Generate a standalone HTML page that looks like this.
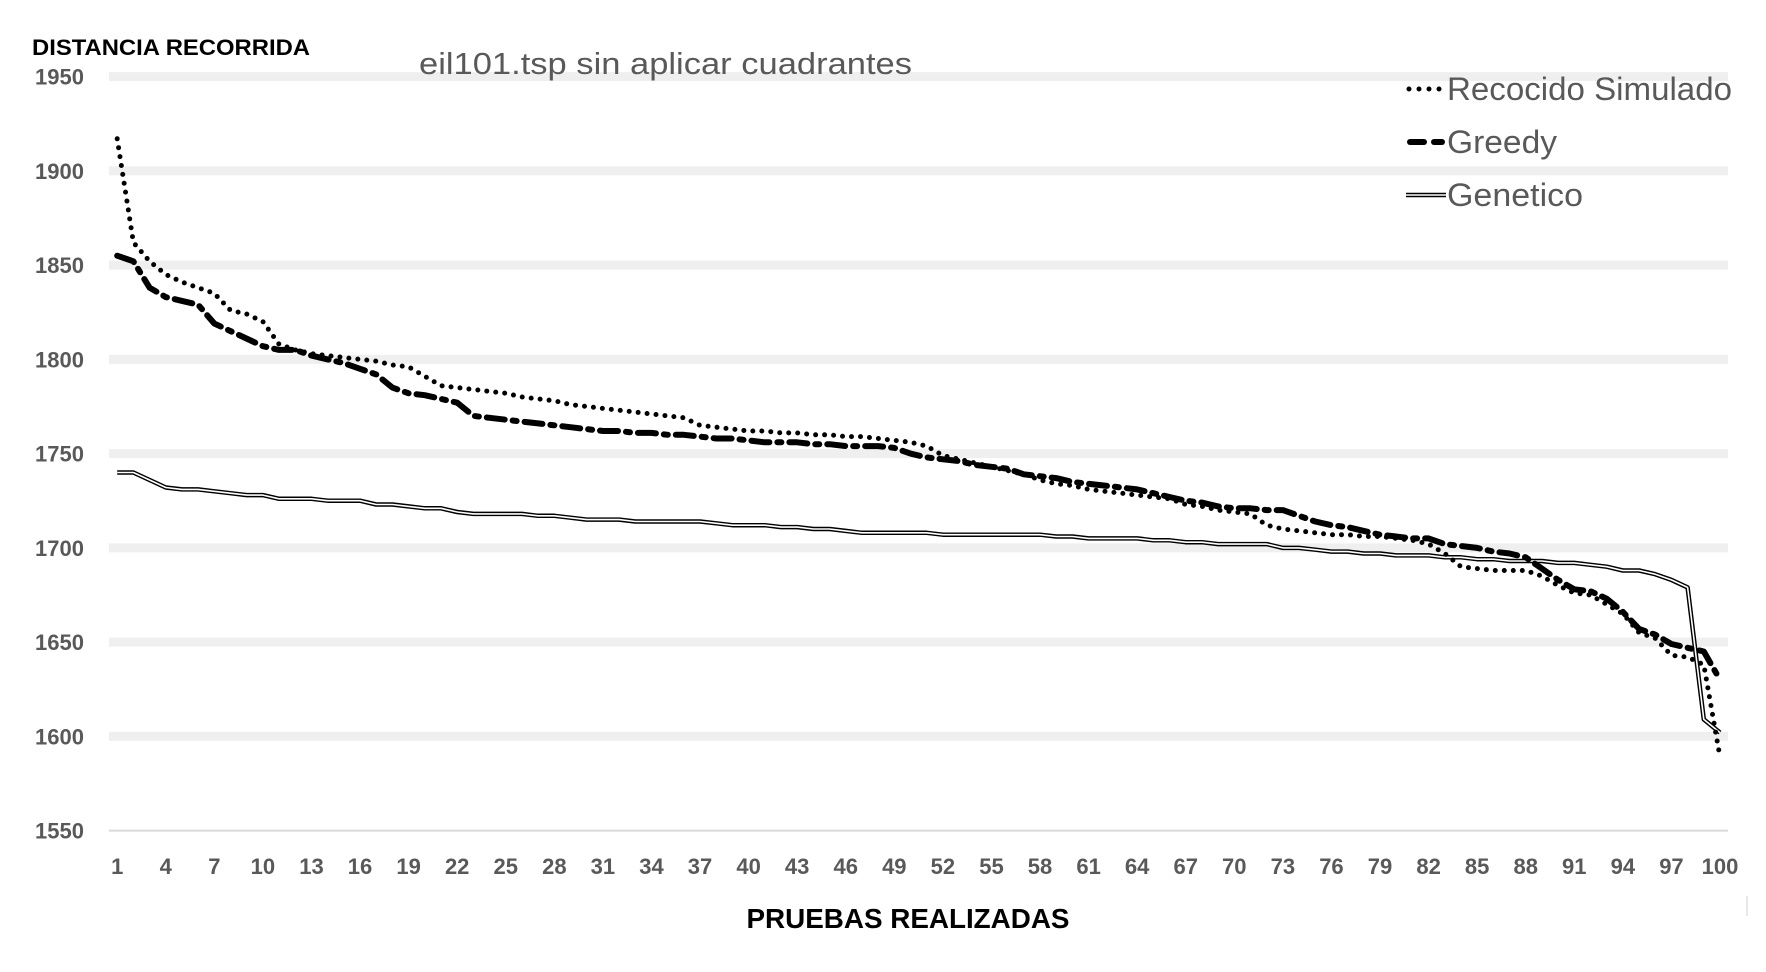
<!DOCTYPE html>
<html><head><meta charset="utf-8"><style>
html,body{margin:0;padding:0;background:#fff;}
svg{display:block;font-family:"Liberation Sans",sans-serif;}
</style></head><body>
<svg id="chart" width="1766" height="972" viewBox="0 0 1766 972">
<g id="grid"></g>
<text x="32" y="55" font-size="22" font-weight="bold" fill="#000" textLength="278" lengthAdjust="spacingAndGlyphs">DISTANCIA RECORRIDA</text>
<text x="419" y="74" font-size="31" fill="#595959" textLength="493" lengthAdjust="spacingAndGlyphs">eil101.tsp sin aplicar cuadrantes</text>
<text x="908" y="928" font-size="28" font-weight="bold" fill="#000" text-anchor="middle" textLength="323" lengthAdjust="spacingAndGlyphs">PRUEBAS REALIZADAS</text>
<line x1="1747" y1="896" x2="1747" y2="916" stroke="#d0d0d0" stroke-width="1"/>
<g id="series"></g><g id="legend"></g>
</svg>
<script>
const yTicks=[1550,1600,1650,1700,1750,1800,1850,1900,1950];
const xTickLabels=[1,4,7,10,13,16,19,22,25,28,31,34,37,40,43,46,49,52,55,58,61,64,67,70,73,76,79,82,85,88,91,94,97,100];
const recocido=[1917,1862,1852,1845,1841,1838,1835,1826,1824,1820,1808,1805,1803,1802,1801,1800,1799,1797,1796,1791,1786,1785,1784,1783,1782,1780,1779,1778,1776,1775,1774,1773,1772,1771,1770,1769,1765,1764,1763,1762,1762,1761,1761,1760,1760,1759,1759,1758,1757,1756,1754,1749,1747,1745,1743,1741,1739,1736,1734,1733,1731,1730,1729,1728,1727,1726,1723,1722,1720,1719,1718,1712,1710,1709,1708,1707,1707,1706,1706,1705,1704,1702,1697,1690,1689,1688,1688,1688,1685,1680,1676,1675,1670,1665,1655,1652,1643,1642,1638,1589];
const greedy=[1855,1852,1838,1833,1831,1829,1819,1815,1811,1807,1805,1805,1802,1800,1798,1795,1792,1785,1782,1781,1779,1777,1770,1769,1768,1767,1766,1765,1764,1763,1762,1762,1761,1761,1760,1760,1759,1758,1758,1757,1756,1756,1756,1755,1755,1754,1754,1754,1753,1750,1748,1747,1746,1744,1743,1742,1739,1738,1737,1735,1734,1733,1732,1731,1729,1727,1725,1724,1722,1721,1721,1720,1720,1717,1714,1712,1711,1709,1707,1706,1705,1705,1702,1701,1700,1698,1697,1695,1689,1683,1678,1677,1673,1666,1657,1654,1649,1647,1645,1630];
const genetico=[1740,1740,1736,1732,1731,1731,1730,1729,1728,1728,1726,1726,1726,1725,1725,1725,1723,1723,1722,1721,1721,1719,1718,1718,1718,1718,1717,1717,1716,1715,1715,1715,1714,1714,1714,1714,1714,1713,1712,1712,1712,1711,1711,1710,1710,1709,1708,1708,1708,1708,1708,1707,1707,1707,1707,1707,1707,1707,1706,1706,1705,1705,1705,1705,1704,1704,1703,1703,1702,1702,1702,1702,1700,1700,1699,1698,1698,1697,1697,1696,1696,1696,1695,1695,1694,1694,1693,1693,1693,1692,1692,1691,1690,1688,1688,1686,1683,1679,1609,1602];
const seriesNames=["Recocido Simulado","Greedy","Genetico"];
const NS="http://www.w3.org/2000/svg";
const x=i=>117.2+(i-1)*(1720-117.2)/99;
const y=v=>76.6+(1950-v)*(830.6-76.6)/400;
function mk(tag,attrs,parent){const e=document.createElementNS(NS,tag);for(const k in attrs)e.setAttribute(k,attrs[k]);parent.appendChild(e);return e;}
const grid=document.getElementById('grid');
yTicks.forEach(v=>{
  const l=mk('line',{x1:109,x2:1728,y1:y(v),y2:y(v),stroke:v===1550?'#d9d9d9':'#efefef','stroke-width':v===1550?2:9},grid);
  
  
  const t=mk('text',{x:84,y:y(v)+8,'text-anchor':'end','font-size':22,'font-weight':'bold',fill:'#595959'},grid);
  t.textContent=v;
  
  
});
xTickLabels.forEach(n=>{
  const t=mk('text',{x:x(n),y:874,'text-anchor':'middle','font-size':22,'font-weight':'bold',fill:'#595959'},grid);
  t.textContent=n;
  
  
});
const sg=document.getElementById('series');
function pts(arr){return arr.map((v,i)=>x(i+1).toFixed(1)+','+y(v).toFixed(1)).join(' ');}
const gOuter=mk('polyline',{points:pts(genetico),fill:'none',stroke:'#000','stroke-width':4.5,'stroke-linejoin':'round'},sg);


const gInner=mk('polyline',{points:pts(genetico),fill:'none',stroke:'#fff','stroke-width':1.6,'stroke-linejoin':'round'},sg);


const gr=mk('polyline',{points:pts(greedy),fill:'none',stroke:'#000','stroke-width':6,'stroke-dasharray':'18 8 4 8','stroke-linecap':'round','stroke-linejoin':'round'},sg);


const rc=mk('polyline',{points:pts(recocido),fill:'none',stroke:'#000','stroke-width':5,'stroke-dasharray':'0 9','stroke-linecap':'round','stroke-linejoin':'round'},sg);


const lg=document.getElementById('legend');
const ly=[89,142,195];
const lw=[285,110,136];
ly.forEach((yy,k)=>{
  const g=mk('g',{},lg);
  
  
  if(k===0){mk('line',{x1:1409,x2:1442,y1:yy,y2:yy,stroke:'#000','stroke-width':5,'stroke-dasharray':'0 10','stroke-linecap':'round'},g);}
  if(k===1){mk('line',{x1:1410,x2:1424,y1:yy,y2:yy,stroke:'#000','stroke-width':6,'stroke-linecap':'round'},g);mk('line',{x1:1434,x2:1442,y1:yy,y2:yy,stroke:'#000','stroke-width':6,'stroke-linecap':'round'},g);}
  if(k===2){mk('line',{x1:1406,x2:1446,y1:yy,y2:yy,stroke:'#000','stroke-width':4.5},g);mk('line',{x1:1406,x2:1446,y1:yy,y2:yy,stroke:'#fff','stroke-width':1.6},g);}
  const t=mk('text',{x:1447,y:yy+11,'font-size':32,fill:'#595959',textLength:lw[k],lengthAdjust:'spacingAndGlyphs'},g);
  t.textContent=seriesNames[k];
});
</script>
</body></html>
